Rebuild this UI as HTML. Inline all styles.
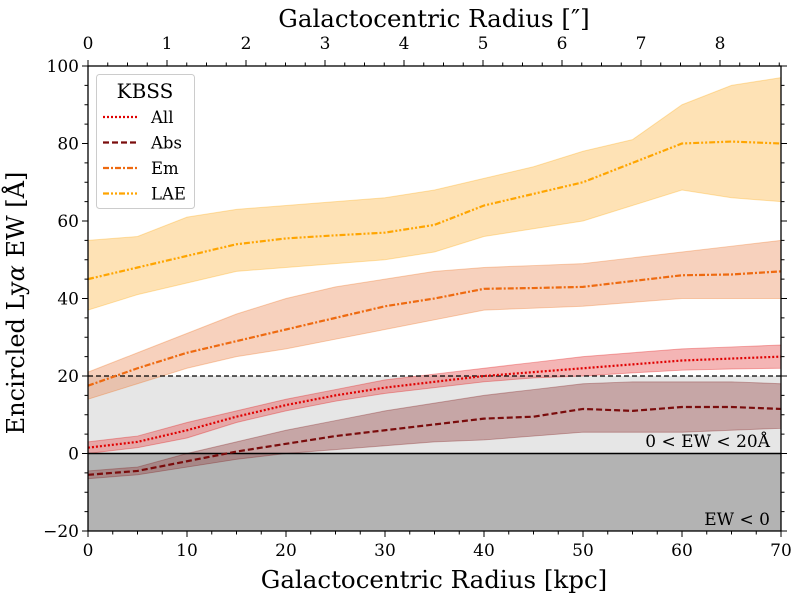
<!DOCTYPE html>
<html><head><meta charset="utf-8"><style>
body{margin:0;background:#fff}
svg text{font-family:"DejaVu Serif","Liberation Serif",serif;fill:#000}
</style></head><body>
<svg id="s" width="797" height="598" xmlns="http://www.w3.org/2000/svg"></svg>
<script>
const L=88,R=781,T=66,B=531;
const X=x=>L+x*(R-L)/70, Y=v=>B-(v+20)*(B-T)/120;
const xs=[0,5,10,15,20,25,30,35,40,45,50,55,60,65,70];
const D={
lae:{m:[45,48,51,54,55.5,56.3,57,59,64,67,70,75,80,80.5,80],u:[55,56,61,63,64,65,66,68,71,74,78,81,90,95,97],l:[37,41,44,47,48,49,50,52,56,58,60,64,68,66,65],c:"#ffa500",f:"rgba(253,190,90,0.45)",d:"6,2,2,2,2,2"},
em:{m:[17.5,22,26,29,32,35,38,40,42.5,42.7,43,44.5,46,46.2,47],u:[21,26,31,36,40,43,45,47,48,48.5,49,50.5,52,53.5,55],l:[14,18,22,25,27,29.5,32,34.5,37,37.5,38,39,40,40,40],c:"#ee6a10",f:"rgba(236,140,90,0.4)",d:"6,2,2,2"},
all:{m:[1.5,3,6,9.5,12.5,15,17,18.5,20,21,22,23,24,24.5,25],u:[3,4.5,8,11,14,16.5,19,20.5,22,23.5,25,26,27,27.5,28],l:[0,1.5,4,8,11,13.5,15.5,17,18.5,19.5,20,20.8,21.5,21.8,22],c:"#e00000",f:"rgba(230,90,90,0.45)",d:"2,2"},
abs:{m:[-5.5,-4.5,-2,0.5,2.5,4.5,6,7.5,9,9.5,11.5,11,12,12,11.5],u:[-4.5,-3.5,0,3,6,8.5,11,13,15,16.5,18,18.5,18.5,18.5,18],l:[-6.5,-5.5,-3.5,-1.5,0,1,2,3,3.5,4.5,5.5,5.5,5.5,6,6.5],c:"#7a0c0c",f:"rgba(150,70,70,0.4)",d:"6,3"}
};
let h='';
h+=`<rect x="${L}" y="${Y(20)}" width="${R-L}" height="${Y(0)-Y(20)}" fill="#e6e6e6"/>`;
h+=`<rect x="${L}" y="${Y(0)}" width="${R-L}" height="${B-Y(0)}" fill="#b3b3b3"/>`;
for(const k of ['abs','all','em','lae']){const s=D[k];
 let p=xs.map((x,i)=>`${X(x)},${Y(s.u[i])}`).join(' ')+' '+xs.map((x,i)=>`${X(x)},${Y(s.l[i])}`).reverse().join(' ');
 h+=`<polygon points="${p}" fill="${s.f}" stroke="${s.c}" stroke-opacity="0.3" stroke-width="1"/>`;}
h+=`<line x1="${L}" x2="${R}" y1="${Y(20)}" y2="${Y(20)}" stroke="#000" stroke-width="1.2" stroke-dasharray="5,3"/>`;
h+=`<line x1="${L}" x2="${R}" y1="${Y(0)}" y2="${Y(0)}" stroke="#000" stroke-width="1.5"/>`;
for(const k of ['abs','all','em','lae']){const s=D[k];
 h+=`<polyline points="${xs.map((x,i)=>`${X(x)},${Y(s.m[i])}`).join(' ')}" fill="none" stroke="${s.c}" stroke-width="2.2" stroke-dasharray="${s.d}"/>`;}
h+=`<rect x="${L}" y="${T}" width="${R-L}" height="${B-T}" fill="none" stroke="#000" stroke-width="1.3"/>`;
for(let v=-20;v<=100;v+=5){const y=Y(v),M=v%20==0,l=M?6:3.5;
 h+=`<line x1="${L-l}" x2="${L}" y1="${y}" y2="${y}" stroke="#000"/><line x1="${R}" x2="${R+l}" y1="${y}" y2="${y}" stroke="#000"/>`;
 if(M)h+=`<text x="${L-9}" y="${y+6}" font-size="17" text-anchor="end">${v<0?'−'+(-v):v}</text>`;}
for(let v=0;v<=70;v+=2.5){const x=X(v),M=v%10==0,l=M?6:3.5;
 h+=`<line x1="${x}" x2="${x}" y1="${B}" y2="${B+l}" stroke="#000"/>`;
 if(M)h+=`<text x="${x}" y="${B+25}" font-size="17" text-anchor="middle">${v}</text>`;}
const A=79.0;
for(let a=0;a*A<=R-L+1;a+=0.25){const x=L+a*A,M=a%1==0,l=M?6:3.5;
 h+=`<line x1="${x}" x2="${x}" y1="${T-l}" y2="${T}" stroke="#000"/>`;
 if(M)h+=`<text x="${x}" y="${T-17}" font-size="17" text-anchor="middle">${a}</text>`;}
h+=`<text x="434" y="588" font-size="24.5" text-anchor="middle">Galactocentric Radius [kpc]</text>`;
h+=`<text x="434" y="27" font-size="24.5" text-anchor="middle">Galactocentric Radius [″]</text>`;
h+=`<text transform="translate(24,303) rotate(-90)" font-size="24" text-anchor="middle">Encircled Ly<tspan font-style="italic">α</tspan> EW [Å]</text>`;
h+=`<text x="770" y="447" font-size="17" text-anchor="end">0 &lt; EW &lt; 20Å</text>`;
h+=`<text x="770" y="525" font-size="17" text-anchor="end">EW &lt; 0</text>`;
h+=`<rect x="96.5" y="74.5" width="98" height="134" rx="3" fill="#fff" fill-opacity="0.85" stroke="#ccc"/>`;
h+=`<text x="145" y="98" font-size="20" text-anchor="middle">KBSS</text>`;
[['All','all'],['Abs','abs'],['Em','em'],['LAE','lae']].forEach(([n,k],i)=>{const y=117+i*25.5;
 h+=`<line x1="103" x2="137" y1="${y}" y2="${y}" stroke="${D[k].c}" stroke-width="2.2" stroke-dasharray="${D[k].d}"/>`;
 h+=`<text x="151" y="${y+6}" font-size="16.5">${n}</text>`;});
document.getElementById('s').innerHTML=h;
</script>
</body></html>
